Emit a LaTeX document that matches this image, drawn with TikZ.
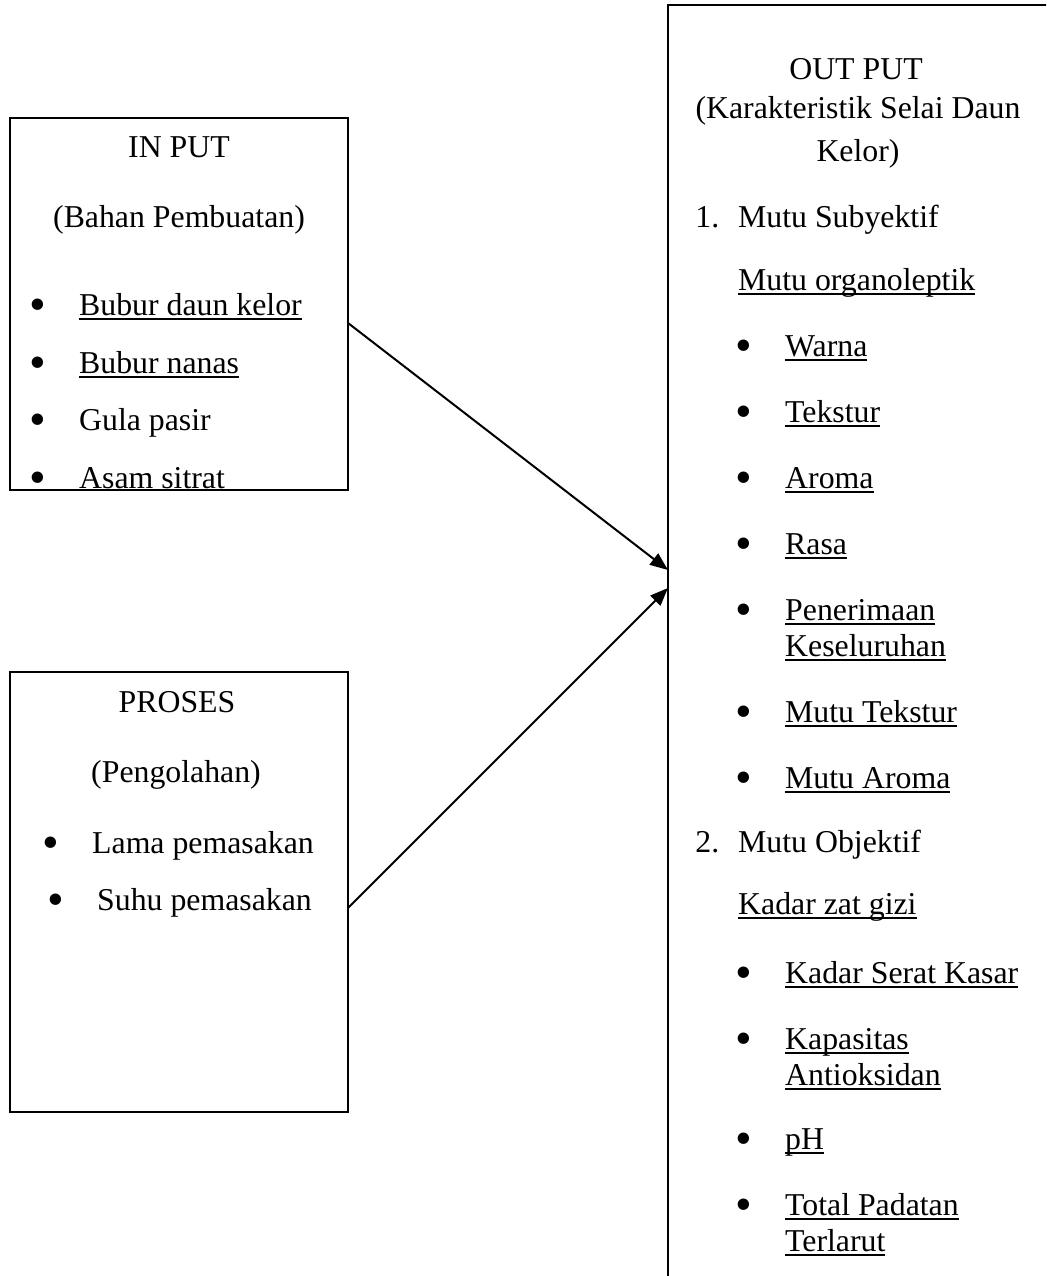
\documentclass[tikz,border=0pt]{standalone}
\usepackage{fontspec}
\setmainfont{Liberation Serif}
\usepackage{graphicx}
\usepackage{tikz}
\usetikzlibrary{arrows.meta}
\newcommand{\garis}[1]{{\setbox0=\hbox{#1}\rlap{\rule[-5.3pt]{\wd0}{2pt}}\box0}}
\newcommand{\poin}{\llap{\raisebox{-5pt}{\scalebox{1.5}{•}}\hspace{32.7pt}}}
\tikzset{
	kotak/.style={draw=black, line width=2.7pt, inner sep=0pt, outer sep=0pt},
	judul/.style={anchor=base, inner sep=0pt, align=center},
	isi/.style={anchor=base west, inner sep=0pt, align=left},
	panah/.style={draw=black, line width=2pt, -{Triangle[length=18pt,width=14pt]}},
}
\begin{document}
\begin{tikzpicture}[x=1pt, y=-1pt, font=\fontsize{31.8pt}{36pt}\selectfont]
	\useasboundingbox (0,0) rectangle (1046,1276);
	\clip (0,0) rectangle (1046,1276);
	% in put
	\node[kotak, minimum width=338pt, minimum height=372pt] (input) at (179,304) {};
	\node[judul] (in-judul) at (179,158) {IN PUT};
	\node[judul] (in-sub) at (179,227) {(Bahan Pembuatan)};
	\node[isi] (in-1) at (79,315) {\poin\garis{Bubur daun kelor}};
	\node[isi] (in-2) at (79,373) {\poin\garis{Bubur nanas}};
	\node[isi] (in-3) at (79,430) {\poin Gula pasir};
	\node[isi] (in-4) at (79,488) {\poin Asam sitrat};
	% proses
	\node[kotak, minimum width=338pt, minimum height=440pt] (proses) at (179,892) {};
	\node[judul] (pr-judul) at (177,712) {PROSES};
	\node[judul] (pr-sub) at (176,782) {(Pengolahan)};
	\node[isi] (pr-1) at (92,853) {\poin Lama pemasakan};
	\node[isi] (pr-2) at (97,910) {\poin Suhu pemasakan};
	% out put (base of a two-line node = its last line)
	\node[kotak, anchor=north west, minimum width=450pt, minimum height=1400pt] (output) at (668,5) {};
	\node[judul] (out-judul) at (856,80) {OUT PUT};
	\node[judul] (out-sub) at (858,162) {(Karakteristik Selai Daun\\[7pt]Kelor)};
	\node[isi] (out-1) at (738,227) {\llap{1.\hspace{19pt}}Mutu Subyektif};
	\node[isi] (out-1a) at (738,290) {\garis{Mutu organoleptik}};
	\node[isi] (out-1a1) at (785,356) {\poin\garis{Warna}};
	\node[isi] (out-1a2) at (785,422) {\poin\garis{Tekstur}};
	\node[isi] (out-1a3) at (785,488) {\poin\garis{Aroma}};
	\node[isi] (out-1a4) at (785,554) {\poin\garis{Rasa}};
	\node[isi] (out-1a5) at (785,656) {\poin\garis{Penerimaan}\\\garis{Keseluruhan}};
	\node[isi] (out-1a6) at (785,722) {\poin\garis{Mutu Tekstur}};
	\node[isi] (out-1a7) at (785,788) {\poin\garis{Mutu Aroma}};
	\node[isi] (out-2) at (738,852) {\llap{2.\hspace{19pt}}Mutu Objektif};
	\node[isi] (out-2a) at (738,914) {\garis{Kadar zat gizi}};
	\node[isi] (out-2a1) at (785,983) {\poin\garis{Kadar Serat Kasar}};
	\node[isi] (out-2a2) at (785,1085) {\poin\garis{Kapasitas}\\\garis{Antioksidan}};
	\node[isi] (out-2a3) at (785,1149) {\poin\garis{pH}};
	\node[isi] (out-2a4) at (785,1251) {\poin\garis{Total Padatan}\\\garis{Terlarut}};
	% panah
	\draw[panah] (input.east |- 0,323) -- (output.west |- 0,570);
	\draw[panah] (proses.east |- 0,908) -- (output.west |- 0,588);
\end{tikzpicture}
\end{document}
